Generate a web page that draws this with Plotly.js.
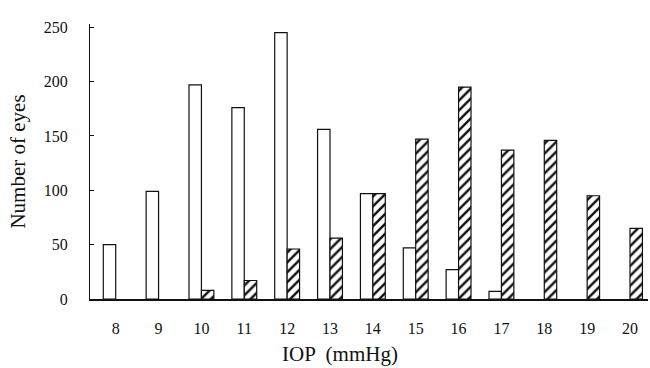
<!DOCTYPE html>
<html><head><meta charset="utf-8">
<script src="https://cdn.plot.ly/plotly-3.0.1.min.js"></script>
<style>html,body{margin:0;padding:0;background:#fff}#c{width:650px;height:368px}</style>
</head><body><div id="c"></div>
<script>
const iop = ['8','9','10','11','12','13','14','15','16','17','18','19','20'];
const seriesA = [50, 99, 197, 176, 245, 156, 97, 47, 27, 7, null, null, null];
const seriesB = [null, null, 8, 17, 46, 56, 97, 147, 195, 137, 146, 95, 65];
const yTicks = [0, 50, 100, 150, 200, 250];

const font = {family: '"Liberation Serif", "Times New Roman", serif', color: '#111', size: 16};

const traces = [
  {type: 'bar', x: iop, y: seriesA, name: 'A',
   marker: {color: '#fff', line: {color: '#111', width: 1.2}}},
  {type: 'bar', x: iop, y: seriesB, name: 'B',
   marker: {color: '#fff', line: {color: '#111', width: 1.2},
            pattern: {shape: '/', fgcolor: '#111', bgcolor: '#fff', size: 7, solidity: 0.35}}}
];

const layout = {
  width: 650, height: 368,
  margin: {l: 90, r: 2, t: 24, b: 69},
  paper_bgcolor: '#fff', plot_bgcolor: '#fff',
  showlegend: false,
  barmode: 'group', bargap: 0.42, bargroupgap: 0,
  font: font,
  xaxis: {type: 'category', range: [-0.6, 12.42], showline: true, linecolor: '#111', linewidth: 1.5,
          ticks: '', showgrid: false, zeroline: false, ticklabelstandoff: 14,
          tickfont: {size: 16}},
  yaxis: {range: [0, 253], tickvals: yTicks, ticktext: yTicks.map(String),
          showline: true, linecolor: '#111', linewidth: 1, ticks: 'inside', ticklen: 4, tickcolor: '#111',
          showgrid: false, zeroline: false, ticklabelstandoff: 18, tickfont: {size: 16},
          title: {text: 'Number of eyes', font: {size: 21}, standoff: 12}},
  annotations: [{text: 'IOP  (mmHg)', xref: 'paper', yref: 'paper', x: 0.448, y: -0.2,
                 xanchor: 'center', yanchor: 'middle', showarrow: false, font: {size: 21}}]
};

Plotly.newPlot('c', traces, layout, {displayModeBar: false, staticPlot: true});
</script>
</body></html>
